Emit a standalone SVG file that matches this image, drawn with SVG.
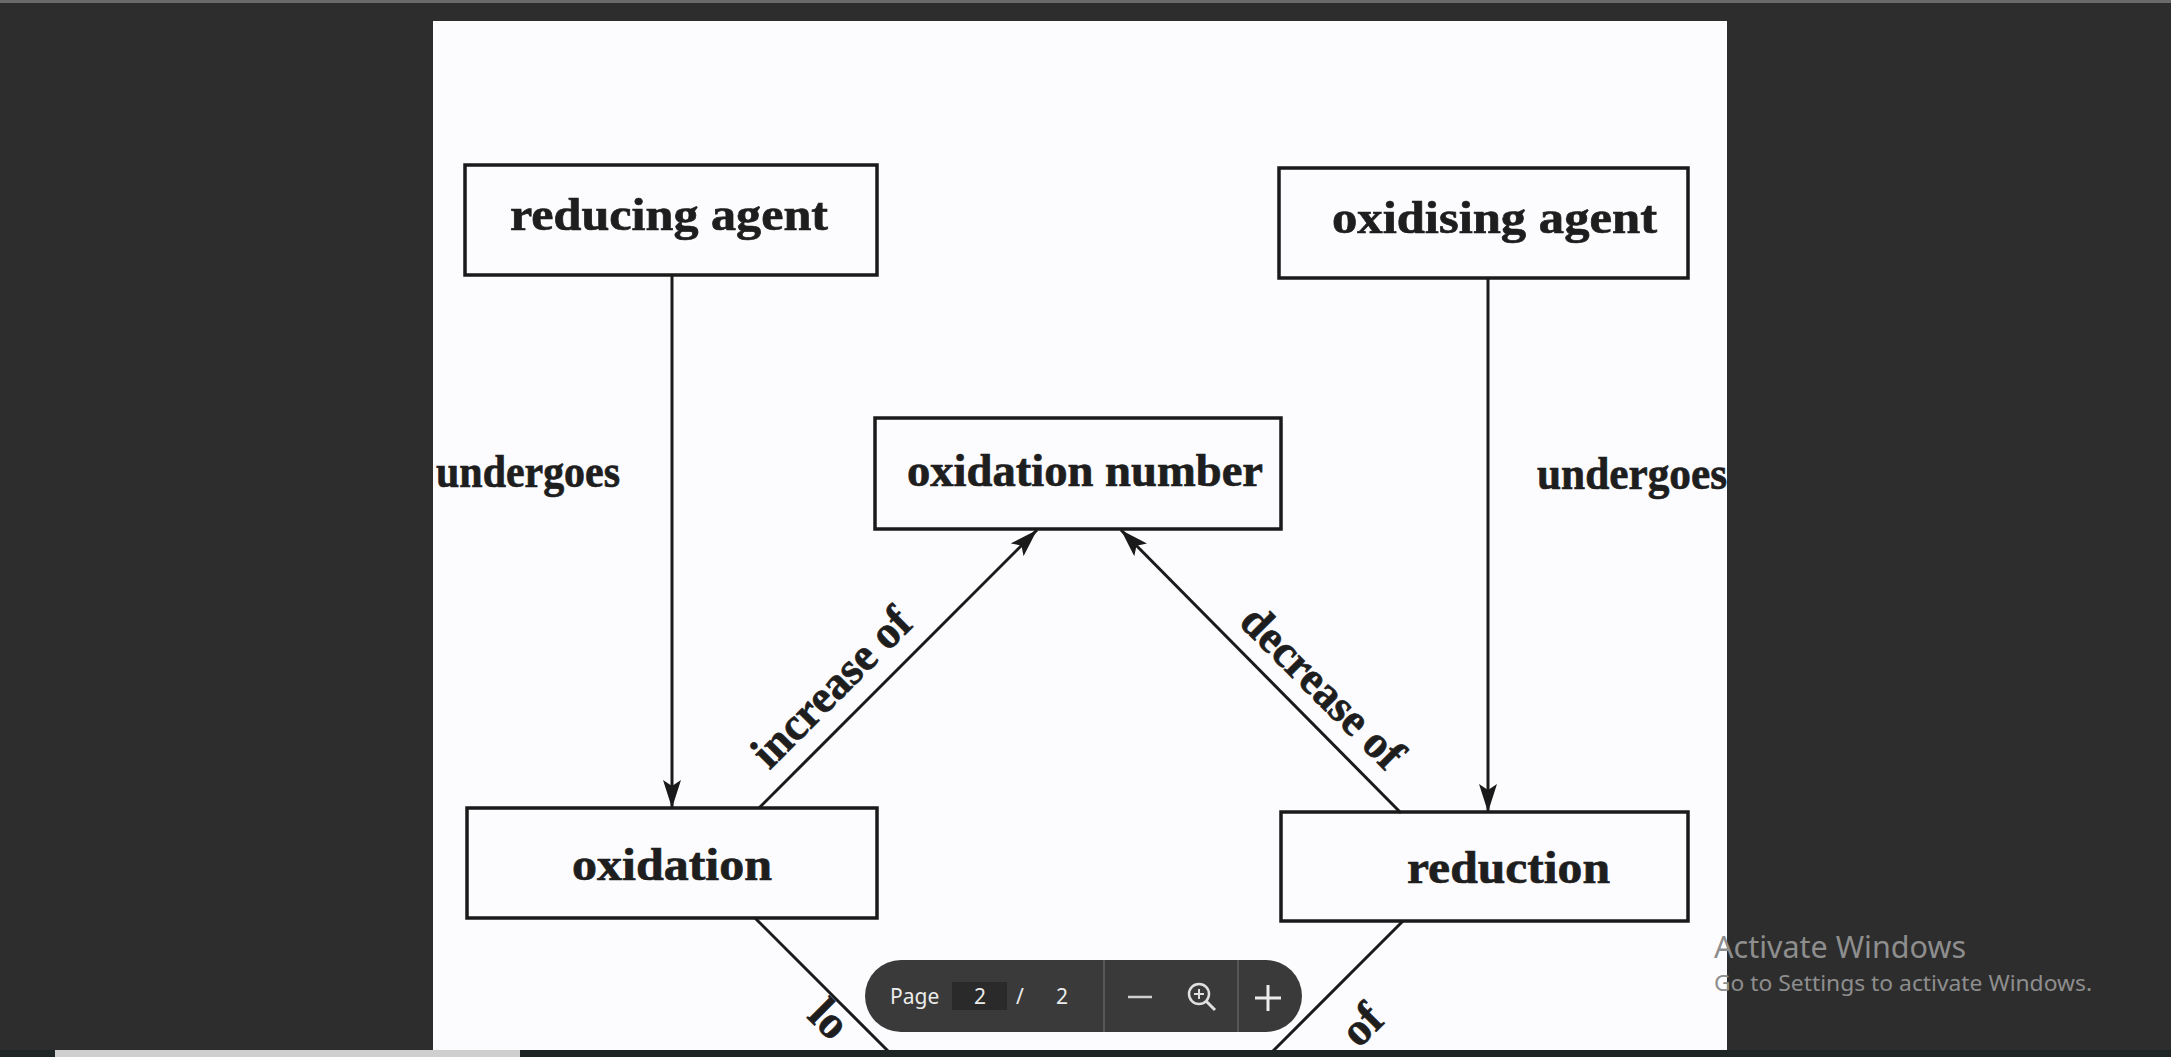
<svg xmlns="http://www.w3.org/2000/svg" width="2171" height="1057" viewBox="0 0 2171 1057">
<style>
.box{fill:none;stroke:#1a1a1a;stroke-width:3.5}
.lbl{font-family:"Liberation Serif","Times New Roman",serif;font-weight:bold;font-size:46px;fill:#1e1e1e;stroke:#1e1e1e;stroke-width:0.7}
.con{stroke:#1a1a1a;stroke-width:3;fill:none}
.ui{font-family:"Noto Sans","Open Sans",sans-serif;fill:#ececec}
.wm{font-family:"Noto Sans","Open Sans",sans-serif;fill:#8e8e8e}
</style>
<defs>
<marker id="ah" viewBox="0 0 28 18" refX="28" refY="9" markerWidth="28" markerHeight="18" orient="auto" markerUnits="userSpaceOnUse">
<path d="M0,0 L28,9 L0,18 L6,9 z" fill="#1a1a1a"/>
</marker>
</defs>
<rect x="0" y="0" width="2171" height="1057" fill="#2d2d2d"/>
<rect x="0" y="0" width="2171" height="3" fill="#6a6a6a"/>
<rect x="433" y="21" width="1294" height="1029" fill="#fcfcfe"/>

<g id="connectors">
<line class="con" x1="672" y1="275" x2="672" y2="808" marker-end="url(#ah)"/>
<line class="con" x1="1488" y1="278" x2="1488" y2="812" marker-end="url(#ah)"/>
<line class="con" x1="759" y1="808" x2="1037" y2="530" marker-end="url(#ah)"/>
<line class="con" x1="1401" y1="813" x2="1121" y2="530" marker-end="url(#ah)"/>
<line class="con" x1="755" y1="918" x2="889" y2="1052"/>
<line class="con" x1="1403" y1="921" x2="1272" y2="1052"/>
<text class="lbl" x="436" y="487" textLength="184" lengthAdjust="spacingAndGlyphs">undergoes</text>
<text class="lbl" x="1537" y="489" textLength="190" lengthAdjust="spacingAndGlyphs">undergoes</text>
<text class="lbl" text-anchor="middle" transform="translate(842,698) rotate(-45)" textLength="205" lengthAdjust="spacingAndGlyphs">increase of</text>
<text class="lbl" text-anchor="middle" transform="translate(1312,698) rotate(45)" textLength="210" lengthAdjust="spacingAndGlyphs">decrease of</text>
<text class="lbl" transform="translate(806,1017) rotate(45)">lo</text>
<text class="lbl" text-anchor="end" transform="translate(1386,1022) rotate(-45)">of</text>
</g>

<g id="node-reducing-agent">
<rect class="box" x="465" y="165" width="412" height="110"/>
<text class="lbl" x="510" y="230" textLength="318" lengthAdjust="spacingAndGlyphs">reducing agent</text>
</g>
<g id="node-oxidising-agent">
<rect class="box" x="1279" y="168" width="409" height="110"/>
<text class="lbl" x="1332" y="233" textLength="325" lengthAdjust="spacingAndGlyphs">oxidising agent</text>
</g>
<g id="node-oxidation-number">
<rect class="box" x="875" y="418" width="406" height="111"/>
<text class="lbl" x="907" y="486" textLength="356" lengthAdjust="spacingAndGlyphs">oxidation number</text>
</g>
<g id="node-oxidation">
<rect class="box" x="467" y="808" width="410" height="110"/>
<text class="lbl" x="572" y="880" textLength="200" lengthAdjust="spacingAndGlyphs">oxidation</text>
</g>
<g id="node-reduction">
<rect class="box" x="1281" y="812" width="407" height="109"/>
<text class="lbl" x="1407" y="883" textLength="203" lengthAdjust="spacingAndGlyphs">reduction</text>
</g>

<rect x="0" y="1050" width="2171" height="7" fill="#1d2525"/>
<rect x="55" y="1050" width="465" height="7" fill="#cfcfcf"/>

<g id="toolbar">
<rect x="865" y="960" width="437" height="72" rx="36" fill="#3a3a3a"/>
<text class="ui" x="890" y="1004" font-size="21">Page</text>
<rect x="952" y="982" width="55" height="28" fill="#2a2a2a"/>
<text class="ui" x="980" y="1004" font-size="21" text-anchor="middle">2</text>
<text class="ui" x="1020" y="1004" font-size="21" text-anchor="middle">/</text>
<text class="ui" x="1062" y="1004" font-size="21" text-anchor="middle">2</text>
<line x1="1104" y1="960" x2="1104" y2="1032" stroke="#575757" stroke-width="2"/>
<line x1="1238" y1="960" x2="1238" y2="1032" stroke="#575757" stroke-width="2"/>
<line x1="1128" y1="997" x2="1152" y2="997" stroke="#cfcfcf" stroke-width="2.5"/>
<circle cx="1199" cy="994" r="10" fill="none" stroke="#e0e0e0" stroke-width="2.5"/>
<line x1="1206" y1="1001" x2="1215" y2="1010" stroke="#e0e0e0" stroke-width="3"/>
<line x1="1194" y1="994" x2="1204" y2="994" stroke="#e0e0e0" stroke-width="2"/>
<line x1="1199" y1="989" x2="1199" y2="999" stroke="#e0e0e0" stroke-width="2"/>
<line x1="1255" y1="998" x2="1281" y2="998" stroke="#ececec" stroke-width="3"/>
<line x1="1268" y1="985" x2="1268" y2="1011" stroke="#ececec" stroke-width="3"/>
</g>

<g id="watermark">
<text class="wm" x="1714" y="958" font-size="30" textLength="252" lengthAdjust="spacingAndGlyphs">Activate Windows</text>
<text class="wm" x="1714" y="991" font-size="21" textLength="378" lengthAdjust="spacingAndGlyphs">Go to Settings to activate Windows.</text>
</g>
</svg>
